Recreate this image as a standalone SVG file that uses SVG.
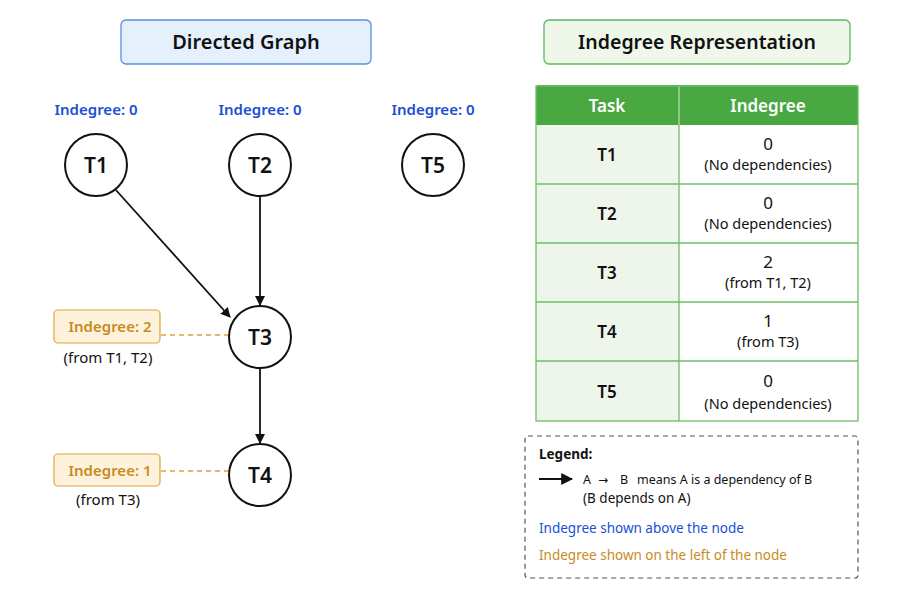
<svg xmlns="http://www.w3.org/2000/svg" width="900" height="600" viewBox="0 0 900 600">
<defs>
<marker id="arr" viewBox="0 0 10 10" refX="9" refY="5" markerWidth="10" markerHeight="10" markerUnits="userSpaceOnUse" orient="auto"><path d="M0,0 L10,5 L0,10 z" fill="#111"/></marker>
<marker id="arrL" viewBox="0 0 10 10" refX="9" refY="5" markerWidth="12" markerHeight="12" markerUnits="userSpaceOnUse" orient="auto"><path d="M0,0 L10,5 L0,10 z" fill="#111"/></marker>
<style>
text{font-family:"Noto Sans","Open Sans","Liberation Sans",sans-serif;}
.title{font-size:20px;font-weight:600;fill:#111;text-anchor:middle;}
.node circle{fill:#fff;stroke:#111;stroke-width:2;}
.node .lbl{font-size:21px;font-weight:600;fill:#111;text-anchor:middle;}
.node .blue,.blue{font-size:15px;font-weight:600;fill:#1a4fd6;text-anchor:middle;}
.obox{fill:#fdf3dc;stroke:#e0a33a;stroke-width:1.2;}
.otext{font-size:15px;font-weight:600;fill:#c98a1e;text-anchor:middle;}
.small{font-size:15px;fill:#111;text-anchor:middle;}
.edge{stroke:#111;stroke-width:1.8;fill:none;}
.dash{stroke:#e0a33a;stroke-width:1.5;stroke-dasharray:5,4;}
.th{font-size:17px;font-weight:600;fill:#fff;text-anchor:middle;}
.td{font-size:17px;font-weight:600;fill:#111;text-anchor:middle;}
.tv{font-size:17px;fill:#111;text-anchor:middle;}
.tn{font-size:14.5px;fill:#111;text-anchor:middle;}
.leg{font-size:13.5px;fill:#111;}
</style>
</defs>
<rect width="900" height="600" fill="#fff"/>

<g id="title-left"><rect x="121" y="20" width="250" height="44" rx="5" fill="#e6f0fc" stroke="#5b8fe0" stroke-width="1.3"/><text class="title" x="246" y="49">Directed Graph</text></g>
<g id="title-right"><rect x="544" y="20" width="306" height="44" rx="5" fill="#eef7ea" stroke="#5cb85c" stroke-width="1.3"/><text class="title" x="697" y="49" style="font-size:19.5px">Indegree Representation</text></g>

<g id="connectors">
<line class="edge" x1="115" y1="189" x2="230" y2="317" marker-end="url(#arr)"/>
<line class="edge" x1="260" y1="196" x2="260" y2="305" marker-end="url(#arr)"/>
<line class="edge" x1="260" y1="368" x2="260" y2="443" marker-end="url(#arr)"/>
<line class="dash" x1="161" y1="335" x2="229" y2="335"/>
<line class="dash" x1="161" y1="471" x2="229" y2="471"/>
</g>

<g id="T1" class="node"><text class="blue" x="96" y="115">Indegree: 0</text><circle cx="96" cy="165" r="31"/><text class="lbl" x="96" y="173">T1</text></g>
<g id="T2" class="node"><text class="blue" x="260" y="115">Indegree: 0</text><circle cx="260" cy="165" r="31"/><text class="lbl" x="260" y="173">T2</text></g>
<g id="T5" class="node"><text class="blue" x="433" y="115">Indegree: 0</text><circle cx="433" cy="165" r="31"/><text class="lbl" x="433" y="173">T5</text></g>
<g id="T3" class="node"><circle cx="260" cy="337" r="31"/><text class="lbl" x="260" y="345">T3</text></g>
<g id="T4" class="node"><circle cx="260" cy="475" r="31"/><text class="lbl" x="260" y="483">T4</text></g>

<g id="indeg-T3"><rect class="obox" x="54" y="310" width="106" height="33" rx="4"/><text class="otext" x="110" y="332">Indegree: 2</text><text class="small" x="108" y="363">(from T1, T2)</text></g>
<g id="indeg-T4"><rect class="obox" x="54" y="454" width="106" height="32" rx="4"/><text class="otext" x="110" y="476">Indegree: 1</text><text class="small" x="108" y="505">(from T3)</text></g>

<g id="table">
<rect x="536" y="125" width="143" height="296" fill="#eef6ec"/>
<rect x="679" y="125" width="179" height="296" fill="#fff"/>
<path d="M536,125 V88 a3,3 0 0 1 3,-3 H855 a3,3 0 0 1 3,3 V125 z" fill="#4aa843"/>
<line x1="679" y1="86" x2="679" y2="125" stroke="#cfe8cb" stroke-width="1"/>
<g stroke="#6cbf66" stroke-width="1.3" fill="none">
<rect x="536" y="86" width="322" height="335"/>
<line x1="536" y1="184" x2="858" y2="184"/>
<line x1="536" y1="243" x2="858" y2="243"/>
<line x1="536" y1="302" x2="858" y2="302"/>
<line x1="536" y1="361" x2="858" y2="361"/>
<line x1="679" y1="125" x2="679" y2="421"/>
</g>
<text class="th" x="607" y="112">Task</text>
<text class="th" x="768" y="112">Indegree</text>
<text class="td" x="607" y="161">T1</text><text class="tv" x="768" y="150">0</text><text class="tn" x="768" y="170">(No dependencies)</text>
<text class="td" x="607" y="220">T2</text><text class="tv" x="768" y="209">0</text><text class="tn" x="768" y="229">(No dependencies)</text>
<text class="td" x="607" y="279">T3</text><text class="tv" x="768" y="268">2</text><text class="tn" x="768" y="288">(from T1, T2)</text>
<text class="td" x="607" y="338">T4</text><text class="tv" x="768" y="327">1</text><text class="tn" x="768" y="347">(from T3)</text>
<text class="td" x="607" y="398">T5</text><text class="tv" x="768" y="387">0</text><text class="tn" x="768" y="409">(No dependencies)</text>
</g>

<g id="legend">
<rect x="525" y="436" width="333" height="142" rx="3" fill="#fff" stroke="#555" stroke-width="1.2" stroke-dasharray="5,4"/>
<text class="leg" x="539" y="459" font-weight="700">Legend:</text>
<line x1="539" y1="479" x2="572" y2="479" stroke="#111" stroke-width="2" marker-end="url(#arrL)"/>
<text class="leg" y="484" style="font-size:12.5px"><tspan x="583">A</tspan><tspan x="598" style="font-family:'DejaVu Sans',sans-serif;font-size:12px">→</tspan><tspan x="620">B</tspan><tspan x="637">means A is a dependency of B</tspan></text>
<text class="leg" x="583" y="503">(B depends on A)</text>
<text class="leg" x="539" y="533" style="fill:#1a4fd6">Indegree shown above the node</text>
<text class="leg" x="539" y="560" style="fill:#c98a1e">Indegree shown on the left of the node</text>
</g>
</svg>
